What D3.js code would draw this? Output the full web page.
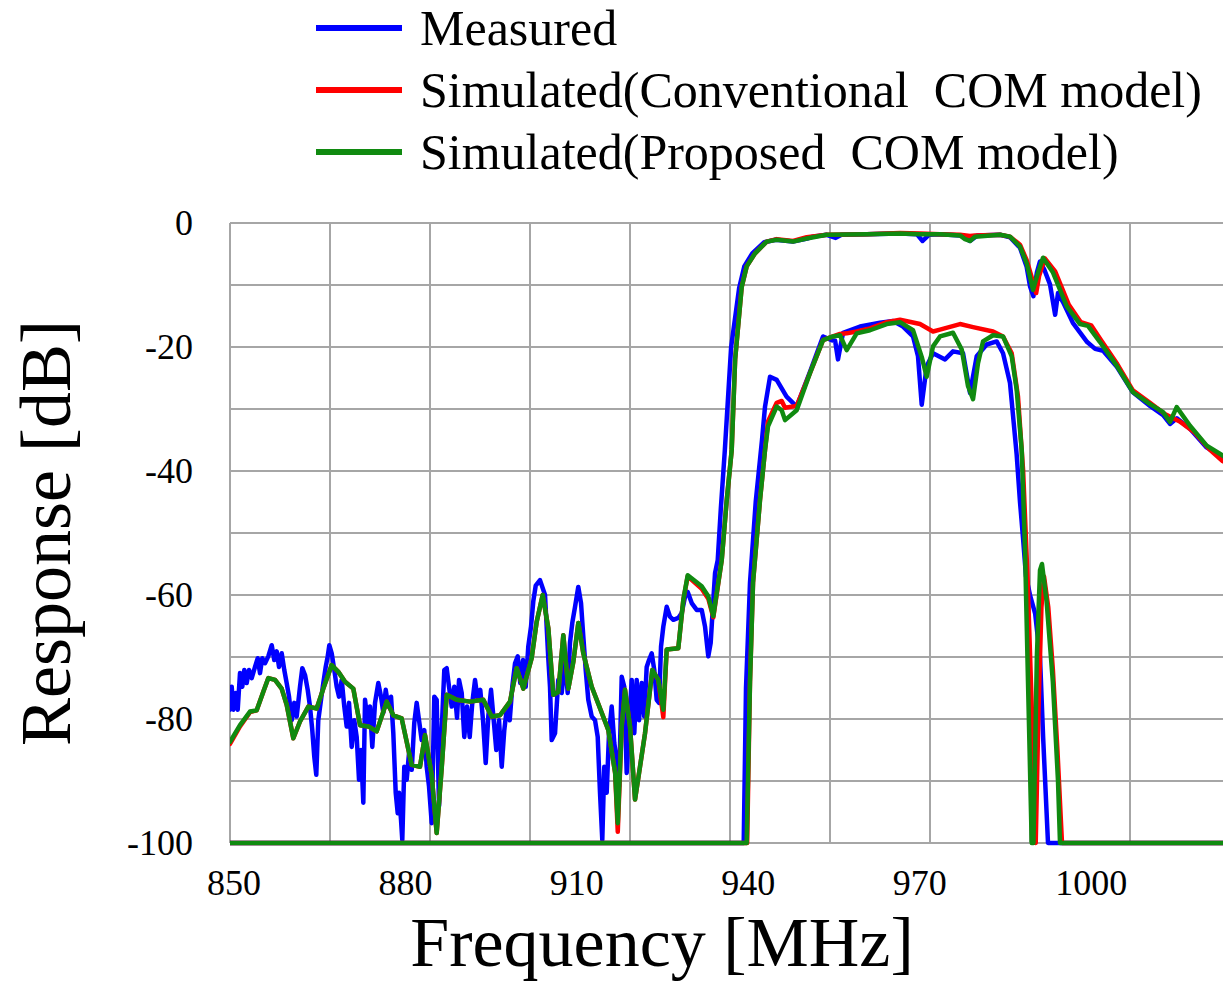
<!DOCTYPE html>
<html>
<head>
<meta charset="utf-8">
<script src="https://cdn.jsdelivr.net/npm/d3@7"></script>
<style>
  body { margin: 0; background: #fff; }
  svg { display: block; }
  text { font-family: "Liberation Serif", "Times New Roman", serif; fill: #000; }
</style>
</head>
<body>
<svg id="chart" width="1223" height="983"></svg>
<script>
// Axis labels
const xTickLabels = [850, 880, 910, 940, 970, 1000];
const yTickLabels = [0, -20, -40, -60, -80, -100];
const xTitle = "Frequency [MHz]";
const yTitle = "Response [dB]";

// Legend entries
const seriesNames = ["Measured", "Simulated(Conventional  COM model)", "Simulated(Proposed  COM model)"];
const seriesColors = ["#0000ff", "#ff0000", "#108a10"];

// Measured: transmission trace (stopband + upper passband) [MHz, dB]
const measuredA = [
  [850.0,-78.5],[850.3,-74.8],[850.58,-78.5],[851.0,-75.8],[851.35,-78.5],[851.75,-72.6],[852.15,-74.8],
  [852.5,-72.1],[852.92,-74.2],[853.33,-72.1],[853.8,-73.4],[854.38,-71.6],[854.85,-70.2],[855.25,-72.6],
  [855.65,-70.2],[856.13,-71.0],[856.7,-69.9],[857.3,-68.1],[857.75,-70.5],[858.17,-69.1],[858.58,-71.6],
  [859.05,-69.4],[859.5,-72.1],[859.92,-74.2],[860.33,-76.4],[860.8,-80.2],[861.25,-77.4],[861.67,-79.6],
  [862.25,-74.8],[862.65,-71.8],[863.13,-72.9],[863.6,-75.3],[864.0,-78.0],[864.4,-81.8],[864.75,-86.1],
  [865.1,-89.0],[865.45,-80.2],[865.93,-76.9],[866.33,-74.2],[866.75,-71.6],[867.1,-69.9],[867.38,-68.1],
  [867.8,-69.4],[868.25,-72.1],[868.67,-74.8],[869.08,-76.4],[869.55,-73.7],[870.0,-78.0],[870.42,-81.2],
  [870.83,-77.4],[871.3,-84.5],[871.75,-80.2],[872.17,-82.9],[872.58,-89.8],[872.93,-85.0],[873.33,-93.5],
  [873.63,-76.9],[874.1,-80.6],[874.5,-78.0],[874.9,-84.5],[875.38,-77.4],[875.95,-74.2],[876.43,-76.4],
  [876.83,-79.0],[877.25,-75.3],[877.7,-78.0],[878.18,-76.4],[878.58,-82.3],[879.0,-91.9],[879.35,-95.2],
  [879.58,-91.9],[879.93,-96.3],[880.15,-99.5],[880.5,-87.7],[880.92,-89.8],[881.33,-85.5],[881.8,-88.2],
  [882.25,-80.6],[882.67,-77.4],[883.08,-80.2],[883.55,-83.4],[884.0,-81.8],[884.42,-87.7],[884.83,-90.9],
  [885.3,-96.8],[885.75,-76.4],[886.17,-76.9],[886.58,-94.1],[887.05,-81.8],[887.5,-72.1],[887.92,-71.8],
  [888.33,-74.8],[888.8,-78.0],[889.25,-74.8],[889.73,-79.8],[890.08,-73.7],[890.55,-75.8],[891.0,-82.9],
  [891.48,-78.0],[891.95,-82.9],[892.4,-77.4],[892.88,-73.7],[893.35,-76.9],[893.8,-75.3],[894.28,-80.2],
  [894.75,-87.1],[895.2,-79.6],[895.68,-75.3],[896.15,-80.2],[896.6,-85.0],[897.08,-80.2],[897.55,-87.7],
  [898.0,-81.8],[898.48,-78.0],[898.95,-80.2],[899.4,-74.8],[899.88,-71.0],[900.35,-69.9],[900.8,-74.2],
  [901.28,-70.5],[901.75,-74.8],[902.2,-68.3],[902.68,-65.1],[903.08,-61.0],[903.5,-58.5],[904.25,-57.6],
  [905.13,-60.0],[905.7,-70.2],[906.0,-74.8],[906.3,-83.4],[906.88,-82.3],[907.45,-73.7],[908.05,-75.8],
  [908.63,-70.5],[909.1,-75.8],[909.5,-67.7],[909.9,-64.5],[910.38,-61.9],[910.95,-58.7],[911.43,-61.3],
  [911.83,-66.7],[912.25,-72.1],[912.7,-76.9],[913.3,-79.6],[913.88,-80.2],[914.35,-82.9],[914.75,-91.9],
  [915.15,-99.5],[915.5,-87.7],[915.92,-91.9],[916.33,-82.3],[916.8,-78.0],[917.25,-83.9],[917.67,-86.6],
  [918.08,-90.9],[918.55,-73.2],[919.0,-74.8],[919.42,-88.7],[919.83,-81.2],[920.3,-73.7],[920.75,-82.3],
  [921.17,-73.7],[921.58,-80.2],[922.05,-74.2],[922.5,-79.6],[922.92,-71.6],[923.33,-70.5],[923.8,-69.4],
  [924.25,-72.1],[924.67,-76.9],[925.08,-77.4],[925.43,-68.3],[925.83,-65.1],[926.42,-61.9],[927.0,-63.5],
  [927.58,-64.0],[928.45,-63.7],[929.05,-62.9],[929.63,-60.3],[930.1,-59.5],[930.8,-61.3],[931.67,-62.4],
  [932.55,-62.4],[933.13,-65.1],[933.7,-69.9],[934.12,-67.7],[934.47,-62.4],[934.88,-56.5],[935.35,-54.4],
  [935.9,-46.0],[936.6,-36.6],[937.7,-20.0],[939.1,-10.5],[940.0,-7.0],[941.4,-4.9],[943.5,-3.1],[945.5,-2.7],
  [948.5,-3.0],[951.0,-2.5],[952.0,-2.2],[954.4,-1.9],[956.0,-2.4],[957.0,-1.9],[961.4,-1.8],[967.2,-1.7],
  [970.2,-1.8],[971.2,-2.9],[972.3,-1.9],[974.3,-1.8],[977.8,-2.0],[979.5,-2.9],[980.8,-2.0],[984.75,-1.9],
  [986.5,-2.3],[988.25,-4.0],[989.4,-7.0],[990.0,-10.2],[990.6,-11.8],[991.2,-8.0],[991.75,-6.2],[992.5,-7.5],
  [993.5,-9.9],[994.4,-14.8],[994.9,-11.3],[995.8,-12.8],[997.5,-16.1],[1000.0,-19.2],[1001.4,-20.3],
  [1002.8,-20.6],[1005.2,-23.2],[1008.0,-27.3],[1011.0,-29.5],[1013.3,-31.0],[1014.5,-32.4],[1015.7,-31.5],
  [1018.0,-33.2],[1020.9,-36.2],[1023.7,-37.8],[1025.0,-38.5]
];

// Measured: second trace (lower passband)
const measuredB = [
  [850,-100],[939.9,-100],[940.3,-75.0],[941.0,-58.0],[942.0,-45.0],[943.1,-35.0],[943.63,-29.6],[944.5,-24.8],
  [945.67,-25.3],[947.4,-28.0],[949.17,-29.6],[951.5,-24.0],[953.78,-18.3],[955.3,-18.9],[955.9,-19.0],
  [956.4,-22.0],[957.28,-17.7],[960.25,-16.7],[963.75,-16.1],[966.03,-15.8],[967.78,-16.7],[969.53,-18.3],
  [970.4,-21.5],[971.05,-29.3],[971.92,-23.1],[973.03,-21.0],[975.13,-22.0],[976.53,-20.7],[978.28,-21.0],
  [979.5,-27.4],[980.67,-21.5],[982.42,-19.6],[984.17,-19.1],[985.28,-21.0],[986.5,-25.8],[987.67,-37.4],
  [988.25,-45.0],[988.78,-50.8],[989.3,-57.0],[990.0,-60.0],[990.9,-63.0],[991.75,-70.0],[992.3,-83.0],
  [993.15,-100],[1025,-100]
];

// Conventional COM model
const conventionalA = [
  [850.0,-84.0],[851.75,-81.2],[853.5,-78.9],[854.67,-78.6],[855.83,-75.6],[856.71,-73.4],[857.88,-73.7],
  [859.04,-75.1],[859.92,-77.7],[861.08,-83.1],[862.25,-80.4],[863.71,-78.0],[865.17,-78.3],[866.33,-75.1],
  [867.79,-71.3],[868.96,-72.4],[870.13,-74.0],[871.58,-75.1],[872.75,-81.0],[874.21,-81.2],[875.67,-82.0],
  [877.42,-77.2],[878.58,-79.4],[880.04,-79.9],[881.79,-87.4],[883.25,-87.7],[884.13,-82.6],[885.29,-89.0],
  [886.17,-98.4],[887.04,-88.0],[887.92,-76.1],[889.67,-76.9],[892.0,-77.2],[894.33,-76.9],[895.79,-79.6],
  [897.25,-79.4],[899.0,-77.2],[900.17,-71.8],[901.33,-75.1],[902.79,-70.2],[903.67,-64.3],[904.72,-60.0],
  [905.71,-65.4],[906.58,-76.1],[907.46,-75.6],[908.33,-66.5],[909.21,-75.1],[910.08,-70.8],[910.96,-64.5],
  [911.83,-69.4],[913.3,-74.8],[915.05,-79.0],[916.21,-81.8],[917.4,-88.7],[917.86,-98.2],[918.55,-81.2],
  [919.13,-75.3],[920.0,-81.2],[920.88,-93.0],[921.75,-87.7],[922.63,-82.3],[923.9,-72.1],[924.95,-73.7],
  [925.83,-79.7],[926.42,-68.8],[928.45,-68.6],[929.33,-60.8],[930.1,-57.0],[932.55,-59.0],[933.7,-60.6],
  [934.58,-63.6],[935.17,-59.9],[936.05,-54.4],[936.9,-45.0],[937.8,-36.6],[938.4,-22.0],[939.55,-10.3],
  [940.42,-7.0],[941.88,-4.9],[943.92,-3.0],[945.67,-2.6],[948.53,-2.9],[950.92,-2.3],[954.42,-1.9],
  [961.42,-1.8],[967.25,-1.6],[970.75,-1.7],[974.25,-1.8],[977.75,-1.9],[979.5,-2.1],[980.38,-2.0],
  [984.75,-1.9],[986.5,-2.2],[988.25,-3.5],[989.42,-6.0],[990.53,-9.5],[991.08,-11.3],[991.6,-8.5],
  [992.6,-5.7],[994.4,-7.8],[996.8,-13.2],[998.9,-16.0],[1000.7,-16.5],[1002.5,-19.0],[1005.3,-22.8],
  [1008.0,-27.0],[1011.0,-29.0],[1013.6,-30.8],[1016.2,-32.0],[1018.8,-33.8],[1021.4,-36.5],[1023.7,-38.4],
  [1025.0,-39.0]
];

const conventionalB = [
  [850,-100],[940.5,-100],[941.0,-74.0],[941.53,-58.0],[942.75,-44.7],[943.63,-36.6],[944.15,-32.0],
  [945.67,-29.0],[946.55,-28.7],[947.13,-29.8],[949.17,-29.5],[951.5,-24.2],[953.78,-18.9],[955.53,-18.3],
  [956.75,-17.9],[957.92,-17.8],[959.67,-17.5],[962.0,-17.0],[964.92,-16.0],[967.25,-15.6],[970.75,-16.3],
  [973.03,-17.5],[974.25,-17.2],[977.75,-16.3],[980.03,-16.8],[983.53,-17.5],[985.28,-18.3],[986.8,-21.0],
  [987.9,-28.0],[988.8,-40.0],[989.6,-58.0],[990.3,-78.0],[991.0,-100],[991.5,-78.0],[992.0,-62.0],
  [992.45,-57.0],[993.2,-62.0],[994.0,-72.0],[994.8,-85.0],[995.6,-100],[1025,-100]
];

// Proposed COM model
const proposedA = [
  [850.0,-83.7],[851.75,-81.0],[853.5,-78.8],[854.67,-78.6],[855.83,-75.6],[856.71,-73.4],[857.88,-73.7],
  [859.04,-75.1],[859.92,-77.7],[861.08,-83.1],[862.25,-80.4],[863.71,-78.0],[865.17,-78.3],[866.33,-75.1],
  [867.79,-71.3],[868.96,-72.4],[870.13,-74.0],[871.58,-75.1],[872.75,-81.0],[874.21,-81.2],[875.67,-82.0],
  [877.42,-77.2],[878.58,-79.4],[880.04,-79.9],[881.79,-87.4],[883.25,-87.7],[884.13,-82.6],[885.29,-89.0],
  [886.17,-98.4],[887.04,-88.0],[887.92,-76.1],[889.67,-76.9],[892.0,-77.2],[894.33,-76.9],[895.79,-79.6],
  [897.25,-79.4],[899.0,-77.2],[900.17,-71.8],[901.33,-75.1],[902.79,-70.2],[903.67,-64.3],[904.72,-60.0],
  [905.71,-65.4],[906.58,-76.1],[907.46,-75.6],[908.33,-66.5],[909.21,-75.1],[910.08,-70.8],[910.96,-64.5],
  [911.83,-69.4],[913.3,-74.8],[915.05,-79.0],[916.21,-81.8],[917.4,-88.7],[917.86,-96.8],[918.55,-81.2],
  [919.13,-75.3],[920.0,-81.2],[920.88,-93.0],[921.75,-87.7],[922.63,-82.3],[923.9,-72.1],[924.95,-73.7],
  [925.83,-78.5],[926.42,-68.8],[928.45,-68.6],[929.33,-60.8],[930.1,-56.8],[932.55,-58.6],[933.7,-60.2],
  [934.58,-63.4],[935.17,-59.7],[936.05,-54.4],[936.9,-45.0],[937.8,-36.6],[938.4,-22.0],[939.55,-10.3],
  [940.42,-7.0],[941.88,-4.9],[943.92,-3.0],[945.67,-2.7],[948.53,-3.0],[950.92,-2.5],[954.42,-1.9],
  [961.42,-1.8],[967.25,-1.7],[970.75,-1.8],[974.25,-1.8],[977.75,-2.0],[978.63,-2.6],[979.5,-2.9],
  [980.38,-2.2],[984.75,-1.9],[986.5,-2.2],[988.25,-3.8],[989.42,-6.5],[990.53,-10.8],[991.4,-8.0],
  [992.28,-5.6],[994.03,-8.0],[996.42,-13.4],[998.75,-16.3],[1000.15,-16.6],[1002.25,-19.2],[1005.17,-23.0],
  [1008.03,-27.3],[1011.0,-29.2],[1013.28,-30.5],[1014.5,-32.1],[1015.67,-29.7],[1018.0,-32.7],
  [1020.92,-35.9],[1023.72,-37.5],[1025.0,-38.2]
];

const proposedB = [
  [850,-100],[940.42,-100],[941.0,-74.0],[941.53,-58.0],[942.75,-44.7],[943.63,-36.6],[944.15,-32.8],
  [945.67,-29.6],[946.55,-30.2],[947.13,-31.8],[949.17,-30.2],[951.5,-24.2],[953.78,-18.9],[955.53,-18.3],
  [956.75,-18.1],[957.92,-20.5],[959.67,-17.8],[962.0,-17.3],[964.92,-16.3],[967.25,-16.0],[969.53,-17.3],
  [971.05,-21.6],[971.92,-24.8],[973.03,-19.9],[974.25,-18.3],[976.53,-17.7],[978.05,-20.4],[979.15,-26.3],
  [980.03,-28.4],[980.9,-22.6],[981.78,-19.1],[983.53,-18.1],[985.28,-18.3],[986.8,-21.5],[987.67,-26.9],
  [988.55,-36.6],[989.13,-52.7],[989.65,-74.0],[990.3,-100],[990.6,-100],[991.2,-70.0],[991.75,-56.0],
  [992.1,-55.0],[992.9,-61.0],[994.0,-74.0],[994.9,-90.0],[995.25,-100],[1025,-100]
];

const seriesData = [
  [measuredA, measuredB],
  [conventionalA, conventionalB],
  [proposedA, proposedB]
];

const svg = d3.select("#chart");

const plot = { left: 230, right: 1230, top: 223, bottom: 843 };
const x = d3.scaleLinear().domain([850, 1025]).range([plot.left, plot.right]);
const y = d3.scaleLinear().domain([-100, 0]).range([plot.bottom, plot.top]);

// Grid: 10 columns across the frequency span, 10 dB rows
const xGrid = d3.range(0, 11).map(i => 850 + i * 17.5);
const yGrid = d3.range(-100, 1, 10);

const grid = svg.append("g").attr("stroke", "#a6a6a6").attr("stroke-width", 2);
grid.selectAll("line.v").data(xGrid).join("line")
  .attr("class", "v")
  .attr("x1", d => x(d)).attr("x2", d => x(d))
  .attr("y1", y(0)).attr("y2", y(-100));
grid.selectAll("line.h").data(yGrid).join("line")
  .attr("class", "h")
  .attr("x1", x(850)).attr("x2", x(1025))
  .attr("y1", d => y(d)).attr("y2", d => y(d));

// Tick labels
svg.append("g").selectAll("text").data(xTickLabels).join("text")
  .attr("x", d => x(d) + 4)
  .attr("y", 895)
  .attr("text-anchor", "middle")
  .attr("font-size", 36)
  .text(d => d);

svg.append("g").selectAll("text").data(yTickLabels).join("text")
  .attr("x", 193)
  .attr("y", d => y(d))
  .attr("dy", "0.33em")
  .attr("text-anchor", "end")
  .attr("font-size", 36)
  .text(d => d);

// Axis titles
svg.append("text")
  .attr("x", 662).attr("y", 966)
  .attr("text-anchor", "middle")
  .attr("font-size", 70)
  .text(xTitle);

svg.append("text")
  .attr("transform", "translate(70,533) rotate(-90)")
  .attr("text-anchor", "middle")
  .attr("font-size", 72)
  .text(yTitle);

// Curves
svg.append("defs").append("clipPath").attr("id", "plotClip")
  .append("rect")
  .attr("x", plot.left).attr("y", plot.top - 4)
  .attr("width", plot.right - plot.left).attr("height", plot.bottom - plot.top + 8);

const line = d3.line().x(d => x(d[0])).y(d => y(d[1]));
const curves = svg.append("g").attr("clip-path", "url(#plotClip)");
seriesData.forEach((traces, i) => {
  curves.selectAll(null).data(traces).join("path")
    .attr("d", line)
    .attr("fill", "none")
    .attr("stroke", seriesColors[i])
    .attr("stroke-width", 4.5)
    .attr("stroke-linejoin", "round")
    .attr("stroke-linecap", "round");
});

// Legend
const legend = svg.append("g");
seriesNames.forEach((name, i) => {
  const cy = 28 + i * 62;
  legend.append("line")
    .attr("x1", 316).attr("x2", 402)
    .attr("y1", cy).attr("y2", cy)
    .attr("stroke", seriesColors[i])
    .attr("stroke-width", 6);
  legend.append("text")
    .attr("x", 420).attr("y", cy + 17)
    .attr("font-size", 50)
    .style("white-space", "pre")
    .text(name);
});
</script>
</body>
</html>
